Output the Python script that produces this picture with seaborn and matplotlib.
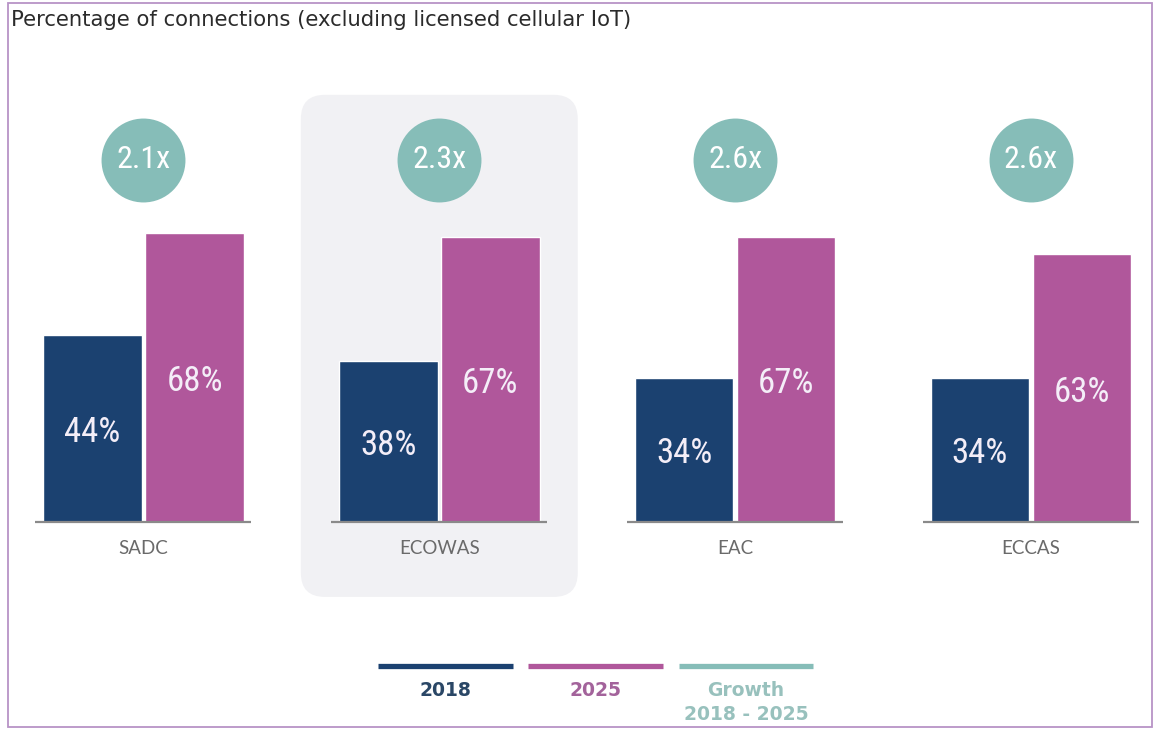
import matplotlib
matplotlib.use("Agg")
import matplotlib.pyplot as plt
from matplotlib import font_manager
from matplotlib.patches import FancyBboxPatch, Rectangle
from matplotlib.lines import Line2D
import seaborn as sns
import pandas as pd

# ---- data ----
regions = ["SADC", "ECOWAS", "EAC", "ECCAS"]
years = ["2018", "2025"]
pct_2018 = [44, 38, 34, 34]
pct_2025 = [68, 67, 67, 63]
growth = ["2.1x", "2.3x", "2.6x", "2.6x"]
highlight = "ECOWAS"
title = "Percentage of connections (excluding licensed cellular IoT)"
legend_labels = ["2018", "2025", "Growth\n2018 - 2025"]

navy = "#1b4170"
pink = "#b0579b"
teal = "#86bdb8"

sns.set_theme(style="white")

# pick the narrowest available family for the condensed numerals
entries = font_manager.fontManager.ttflist
names = {f.name for f in entries}
narrow_family, narrow_stretch = None, "normal"
for cand in ["Roboto Condensed", "Liberation Sans Narrow", "Open Sans Condensed",
             "DejaVu Sans Condensed", "Noto Sans Condensed"]:
    if cand in names:
        narrow_family = cand
        break
if narrow_family is None:
    for f in entries:
        st = f.stretch if isinstance(f.stretch, str) else ""
        if "condensed" in str(st).lower() or "narrow" in f.fname.lower() or "condensed" in f.fname.lower():
            narrow_family = f.name
            narrow_stretch = f.stretch
            break
if narrow_family is None:
    narrow_family = "Roboto"
narrow_kw = dict(family=narrow_family, fontstretch=narrow_stretch)

plt.rcParams["font.family"] = ["Lato", "DejaVu Sans"]

df = pd.DataFrame({
    "region": regions * 2,
    "year": [years[0]] * 4 + [years[1]] * 4,
    "pct": pct_2018 + pct_2025,
})

fig = plt.figure(figsize=(11.54, 7.30), dpi=100)
fig.patch.set_facecolor("white")
ax = fig.add_axes([0, 0, 1, 1])
sns.barplot(data=df, x="region", y="pct", hue="year", order=regions,
            hue_order=years, palette=[navy, pink], width=0.69, gap=0.035,
            saturation=1, ax=ax, legend=False, zorder=3)
ax.set_xlim(-0.485, 3.416)
ax.set_ylim(-48.9, 122.8)
ax.axis("off")

fig.canvas.draw()
x0, y0 = ax.transData.transform((0, 0))
x1, y1 = ax.transData.transform((1, 1))
px_x = x1 - x0
px_y = y1 - y0

# highlighted background panel
hi = regions.index(highlight)
r_px = 24
box = FancyBboxPatch((hi - 0.468, -17.6), 0.936, 118.1,
                     boxstyle=f"round,pad=0,rounding_size={r_px / px_x}",
                     mutation_aspect=px_x / px_y,
                     facecolor="#f1f1f4", edgecolor="none", zorder=0)
ax.add_patch(box)

# baselines
for i in range(len(regions)):
    ax.plot([i - 0.365, i + 0.365], [0, 0], color="#8a8a8a", lw=1.6,
            zorder=4, solid_capstyle="butt")

# value labels
for cont in ax.containers:
    anns = ax.bar_label(cont, fmt="{:.0f}%", label_type="center", color="#f4eef8",
                        fontsize=25, padding=0, **narrow_kw)
    for a in anns:
        a.xyann = (0, -3)

xt = ax.get_xaxis_transform()
# growth circles
ax.scatter(range(len(regions)), [0.781] * len(regions), s=3650, color=teal,
           transform=xt, zorder=5, linewidths=0)
for i, g in enumerate(growth):
    ax.text(i, 0.781, g, transform=xt, ha="center", va="center",
            color="white", fontsize=23, zorder=6, **narrow_kw)

# category labels
for i, r in enumerate(regions):
    ax.text(i, 0.249, r, transform=xt, ha="center", va="center",
            color="#6a6a6a", fontsize=13.5)

# title
fig.text(0.0095, 0.972, title, ha="left", va="center", fontsize=15.2,
         color="#2b2b2b", family=["DejaVu Sans"])

# legend
leg_colors = [navy, pink, teal]
leg_text_colors = ["#2a4766", "#a3639b", "#98c1bd"]
leg_x = [(378, 513), (528, 663), (679, 813)]
W, H = 1154, 730
for (a, b), c, tc, lab in zip(leg_x, leg_colors, leg_text_colors, legend_labels):
    fig.add_artist(Line2D([a / W, b / W], [1 - 666 / H] * 2, color=c, lw=3.8,
                          transform=fig.transFigure, solid_capstyle="butt"))
    fig.text((a + b) / 2 / W, 1 - 681 / H, lab, ha="center", va="top",
             color=tc, fontsize=13.5, fontweight="bold",
             family=["DejaVu Sans"], linespacing=1.3)

# frame
fig.add_artist(Rectangle((8 / W, 3 / H), 1144 / W, 724 / H, fill=False,
                         edgecolor="#b893c6", lw=1.3, transform=fig.transFigure))

fig.savefig("out.png", dpi=100)
